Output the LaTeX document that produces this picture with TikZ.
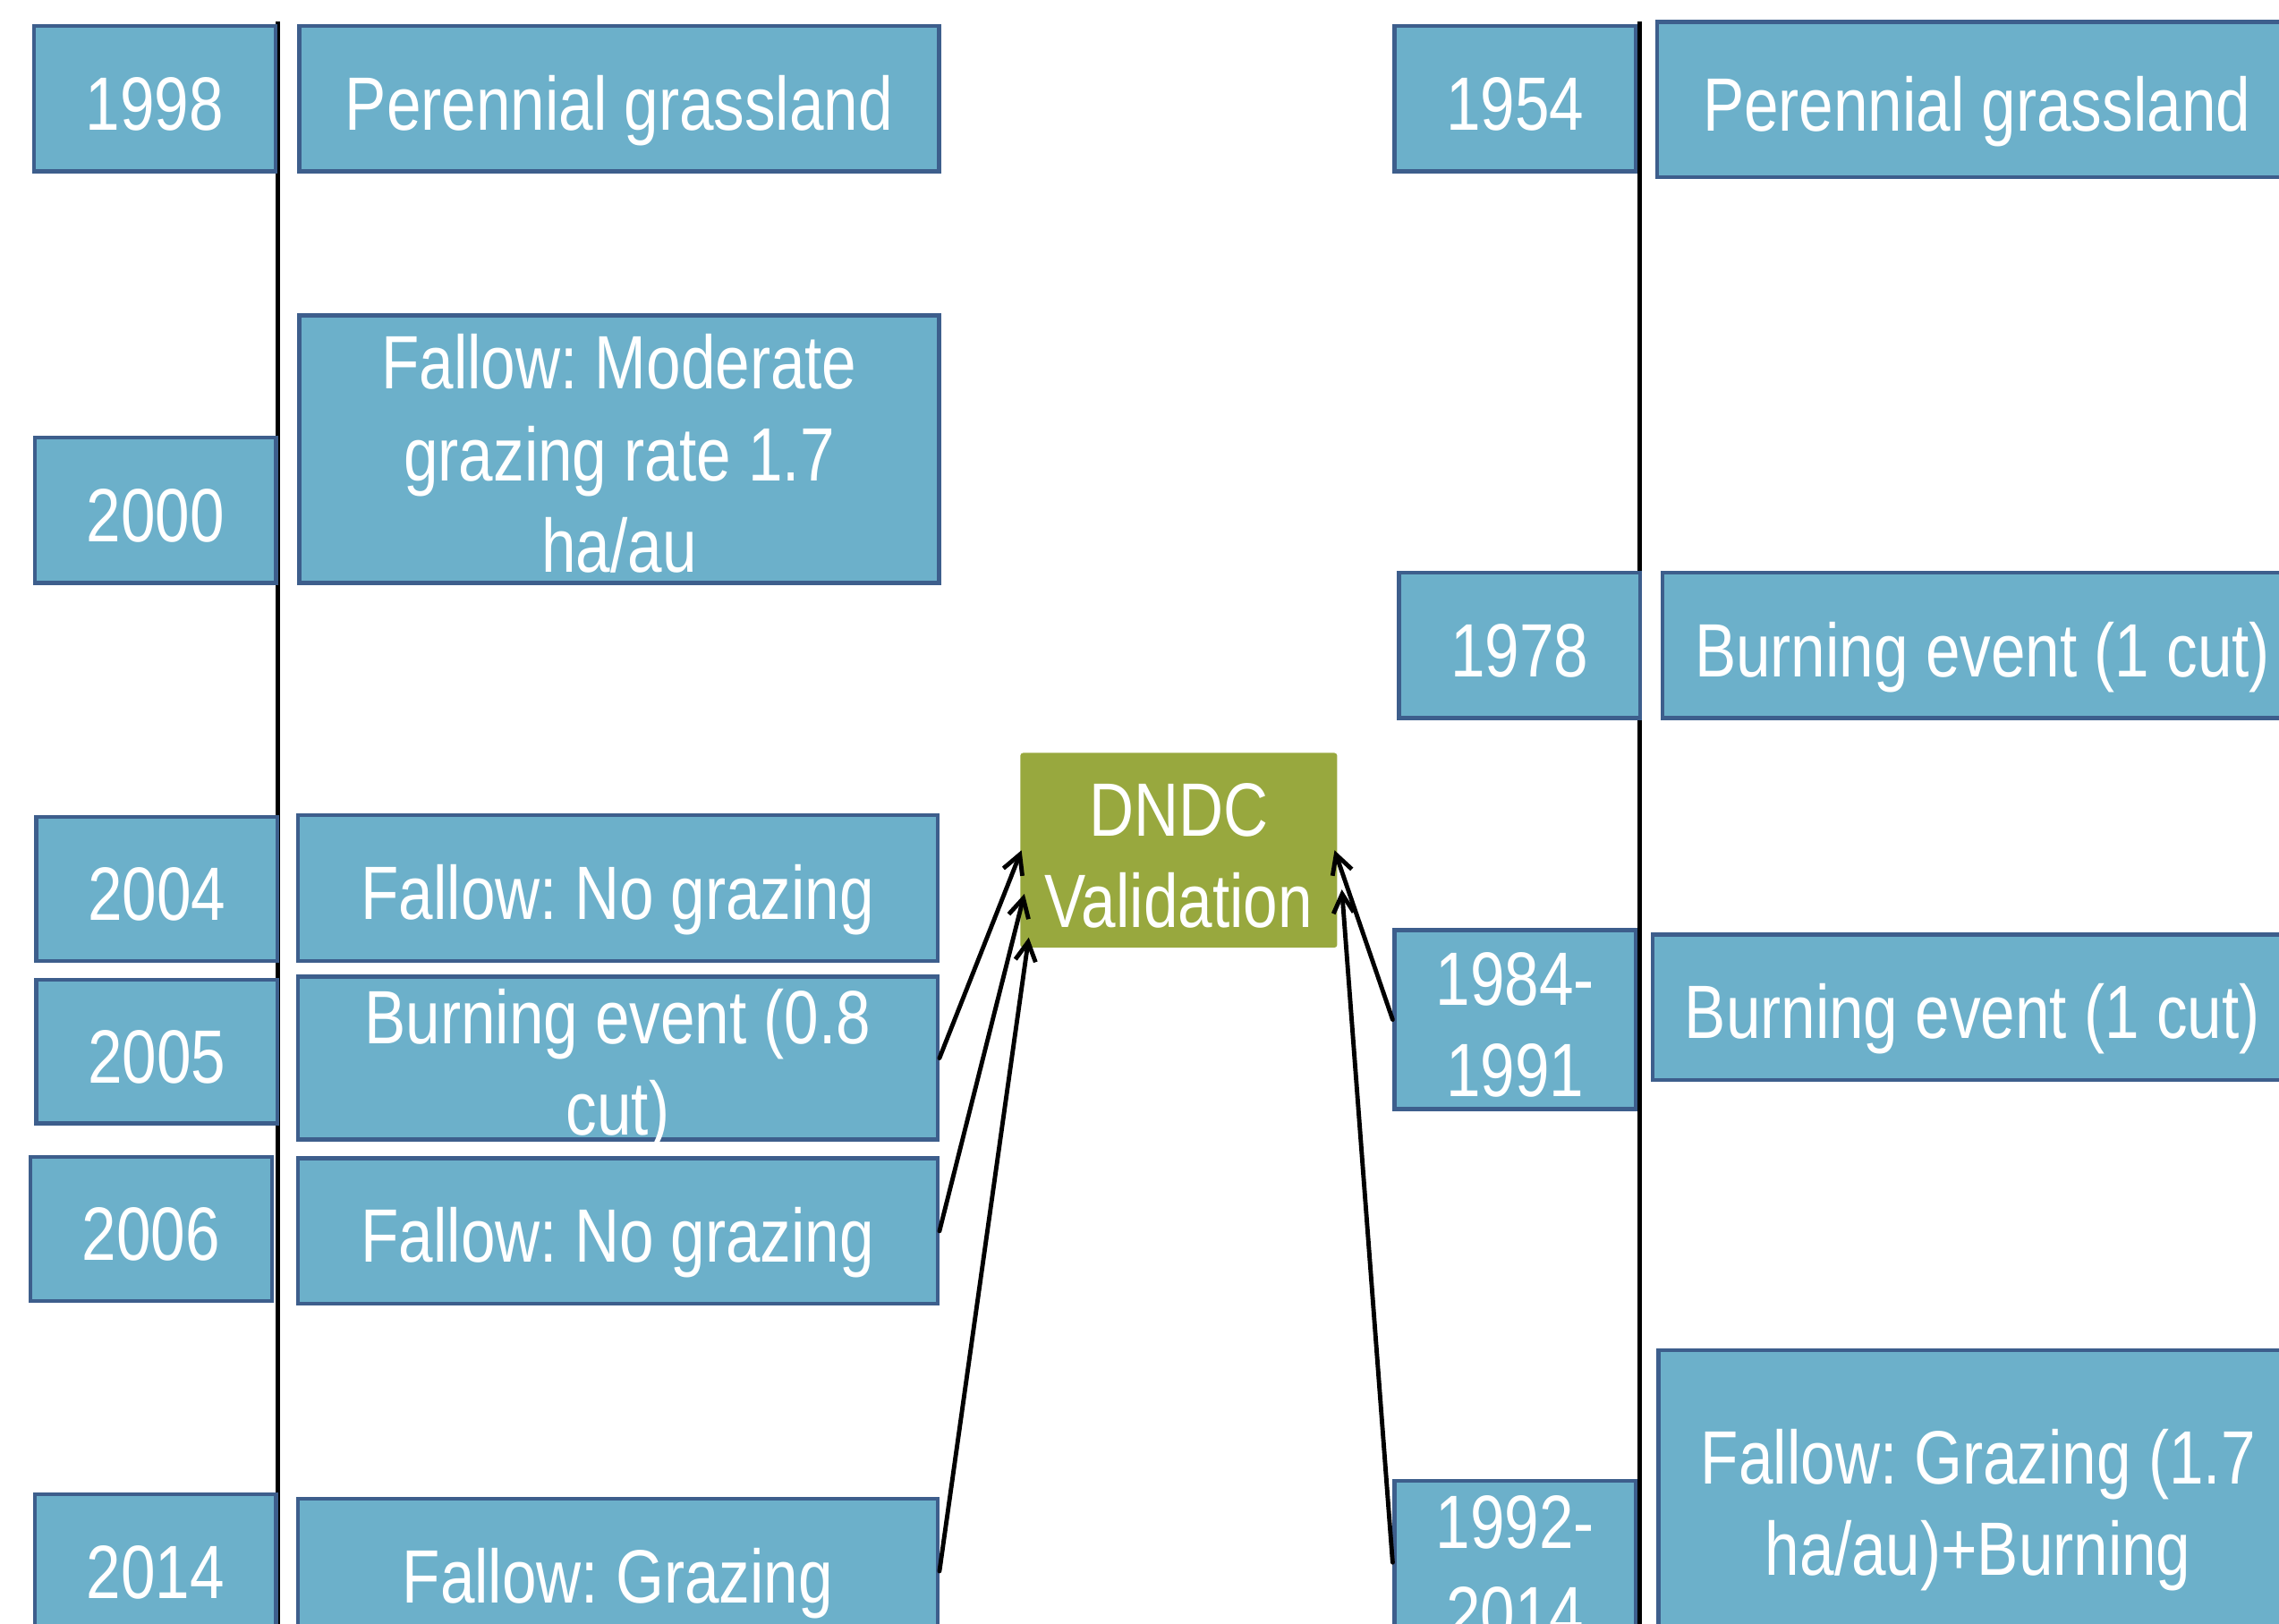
\documentclass[tikz,border=0pt]{standalone}
\usepackage{fontspec}
\setmainfont{Liberation Sans}[FakeStretch=0.82]
\usetikzlibrary{arrows.meta}
\definecolor{boxfill}{RGB}{108,176,202}
\definecolor{boxline}{RGB}{61,94,140}
\definecolor{dgreen}{RGB}{152,168,62}
\frenchspacing
% #1 = raise of the first baseline above the node centre, #2 = lines
\newcommand{\boxtext}[2]{\raisebox{#1}[0pt][0pt]{\begin{tabular}[t]{@{}c@{}}#2\end{tabular}}}
\newcommand{\oneline}[1]{\boxtext{-21.6pt}{#1}}
\newcommand{\twoline}[1]{\boxtext{9.9pt}{#1}}
\newcommand{\threeline}[1]{\boxtext{41.4pt}{#1}}
\begin{document}
\begin{tikzpicture}[x=1pt,y=-1pt,
  tbox/.style={draw=boxline, fill=boxfill, line width=2.7pt, text=white, inner sep=0pt,
    font=\fontsize{52}{63}\selectfont\frenchspacing, minimum height=100pt},
  ybox/.style={tbox, minimum width=166pt},
  ebox/.style={tbox, minimum width=440pt},
  gbox/.style={fill=dgreen, rounded corners=2pt, text=white,
    font=\fontsize{52}{63}\selectfont, inner sep=0pt, minimum width=218pt, minimum height=134pt},
  axisline/.style={line width=3pt, black},
  arr/.style={line width=3pt, line cap=round, -{Straight Barb[length=13pt,width=14pt,line width=3pt]}}
]
\useasboundingbox (0,0) rectangle (1568,1117);
\clip (0,0) rectangle (1568,1117);

% timeline axes
\coordinate (ltop) at (191,15);
\coordinate (lbot) at (191,1140);
\coordinate (rtop) at (1128,15);
\coordinate (rbot) at (1128,1140);
\draw[axisline] (ltop) -- (lbot);
\draw[axisline] (rtop) -- (rbot);

% left timeline
\node[ybox] (y1998) at (106.5,68) {\oneline{1998}};
\node[ebox] (per1) at (426,68) {\oneline{Perennial grassland}};
\node[ybox] (y2000) at (107,351) {\oneline{2000}};
\node[ebox, minimum height=184pt] (mod) at (426,309) {\threeline{Fallow: Moderate\\grazing rate 1.7\\ha/au}};
\node[ybox, minimum height=99pt] (y2004) at (108,611.5) {\oneline{2004}};
\node[ebox] (nog1) at (425,611) {\oneline{Fallow: No grazing}};
\node[ybox, minimum height=99pt] (y2005) at (108,723.5) {\oneline{2005}};
\node[ebox, minimum height=112pt] (burn05) at (425,728) {\twoline{Burning event (0.8\\cut)}};
\node[ybox, minimum height=99pt] (y2006) at (104,845.5) {\oneline{2006}};
\node[ebox] (nog2) at (425,847) {\oneline{Fallow: No grazing}};
\node[ybox] (y2014) at (107,1078) {\oneline{2014}};
\node[ebox] (graz) at (425,1081) {\oneline{Fallow: Grazing}};

% centre
\node[gbox] (dndc) at (811,585) {\twoline{DNDC\\Validation}};

% right timeline
\node[ybox] (y1954) at (1042.5,68) {\oneline{1954}};
\node[ebox, minimum height=107pt] (per2) at (1360,68.5) {\oneline{Perennial grassland}};
\node[ybox] (y1978) at (1045.5,444) {\oneline{1978}};
\node[ebox] (burn78) at (1364,444) {\oneline{Burning event (1 cut)}};
\node[ybox, minimum height=123pt] (y1984) at (1042.5,701.5) {\twoline{1984-\\1991}};
\node[ebox] (burn84) at (1357,693) {\oneline{Burning event (1 cut)}};
\node[ybox, minimum height=112pt] (y1992) at (1042.5,1075) {\twoline{1992-\\2014}};
\node[ebox, minimum height=204pt] (grazburn) at (1361,1031) {\twoline{Fallow: Grazing (1.7\\ha/au)+Burning}};

% connectors
\draw[arr] (burn05.east) -- ([xshift=1pt]dndc.west);
\draw[arr] (nog2.east) -- ([yshift=-30pt,xshift=3pt]dndc.west);
\draw[arr] (graz.east) -- ([yshift=-60pt,xshift=6pt]dndc.west);
\draw[arr] (y1984.west) -- ([xshift=-2pt]dndc.east);
\draw[arr] (y1992.west) -- ([yshift=-27pt,xshift=3pt]dndc.east);
\end{tikzpicture}
\end{document}
